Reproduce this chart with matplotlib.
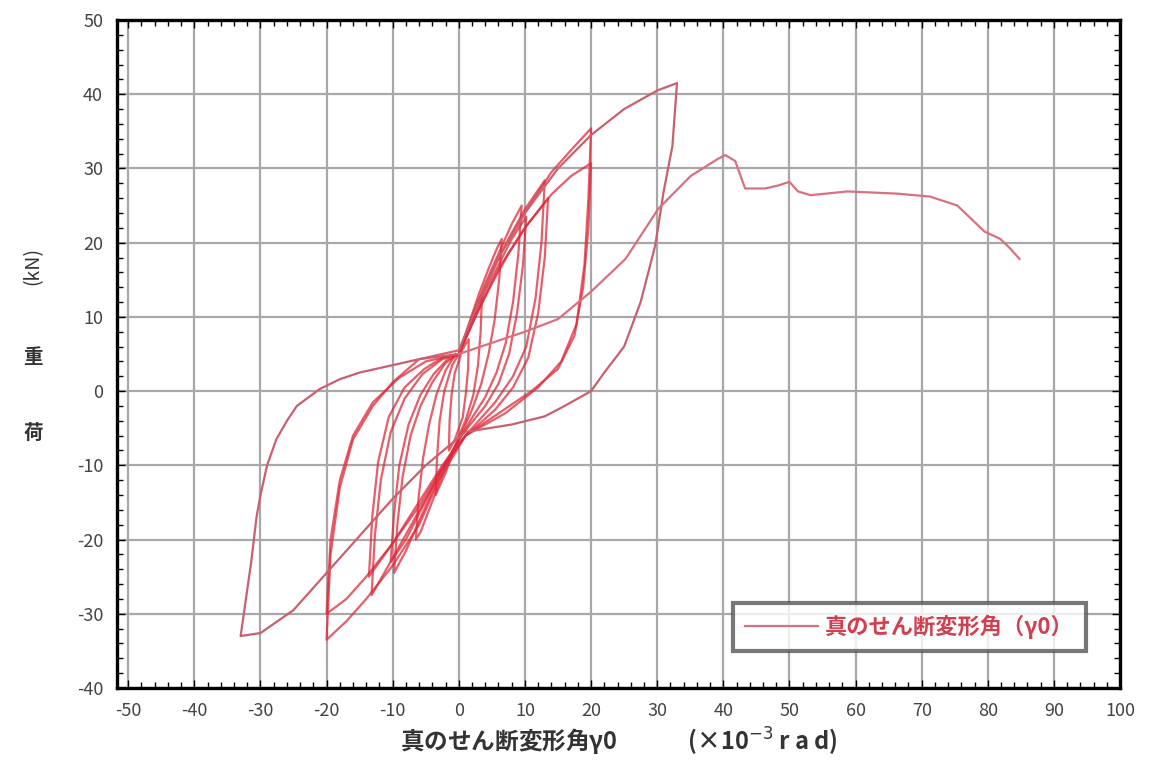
import numpy as np
import matplotlib
matplotlib.use("Agg")
from matplotlib import pyplot as plt
from matplotlib.ticker import MultipleLocator

plt.rcParams["font.family"] = ["Noto Sans CJK JP", "DejaVu Sans"]
plt.rcParams["axes.unicode_minus"] = False

# 履歴ループ (x: 真のせん断変形角 ×10^-3 rad, y: 荷重 kN)
loop_a = [[0, 4], [0.5, 5.5], [1.0, 6.3], [1.5, 7], [1.4, 3], [1.1, 0], [0.6, -3.5], [0, -5],
          [-0.5, -6.3], [-1.0, -7.2], [-1.5, -8], [-1.4, -4], [-1.1, -0.5], [-0.6, 2.5], [0, 4]]
loop_b = [[0, 5], [1, 7.5], [2, 10], [3, 12], [3.5, 13], [3.3, 8], [2.9, 3.5], [2.2, -0.5], [1, -4],
          [0, -6], [-1, -8.5], [-2, -11], [-3, -13], [-3.5, -14], [-3.3, -9], [-2.9, -4], [-2.2, 0],
          [-1, 3.5], [0, 5]]
loop_c = [[0, 5], [1.5, 9], [3, 13], [4.5, 16.5], [5.8, 19.3], [6.5, 20.5], [6.1, 15], [5.4, 9.5],
          [4.5, 5], [3.4, 1], [2, -2.5], [0.5, -5.5], [-1.5, -9], [-3, -12.5], [-4.5, -16],
          [-5.8, -19], [-6.5, -20], [-6.1, -14.5], [-5.4, -9], [-4.5, -4.5], [-3.4, -0.5], [-2, 2.8],
          [-0.5, 5]]
loop_d = [[0, 5], [2, 10], [4, 14.5], [6, 18.5], [8, 22.5], [9.5, 25], [9, 18.5], [8.2, 12],
          [7.1, 6.5], [5.7, 2.5], [4, -0.8], [2, -3.6], [0.5, -5.8], [-2, -10], [-4, -13.5], [-6, -17.5],
          [-8, -21.5], [-9.8, -24.5], [-9.3, -18], [-8.5, -11.5], [-7.3, -6], [-5.8, -2], [-4, 1.2],
          [-2, 3.8], [0, 5]]
loop_d2 = [[0, 5], [2, 9.5], [4, 13.5], [6, 17], [8, 20.5], [10.2, 23.5], [9.7, 17], [8.8, 10.5],
           [7.6, 5], [6, 1], [4, -2], [2, -4.2], [0.5, -5.9], [-2, -9.5], [-4, -13], [-6, -16.5],
           [-8, -20], [-10.3, -23], [-9.8, -16.5], [-9, -10], [-7.6, -4.5], [-5.8, -0.5], [-3.8, 2.3],
           [-1.8, 4.2], [0, 5]]
loop_e = [[0, 5], [2.5, 11], [5, 16], [7.5, 20.5], [10, 24.5], [13, 28.4], [12.5, 20], [11.6, 12.5],
          [10.2, 6], [8.2, 2], [5.5, -1.5], [3, -4], [1, -6], [-2.5, -10.5], [-5, -14.5], [-7.5, -18.5],
          [-10, -22.5], [-13.2, -27.5], [-12.7, -19.5], [-11.8, -12], [-10.3, -5.5], [-8.2, -1],
          [-5.5, 2.3], [-2.5, 4.3], [0, 5]]
loop_e2 = [[0, 5], [2.5, 10], [5, 14.5], [7.5, 18.5], [10, 22], [13.5, 26], [13, 18], [12, 10.5],
           [10.5, 4.5], [8.2, 0.5], [5.5, -2.5], [3, -4.5], [1, -6], [-2.5, -10], [-5, -13.5],
           [-7.5, -17], [-10, -20.5], [-13.6, -25], [-13.1, -17], [-12.2, -9.5], [-10.6, -3.5],
           [-8.2, 0.5], [-5.2, 3], [-2.5, 4.5], [0, 5]]
loop_f = [[0, 5], [3, 12], [6, 18], [10, 24], [14, 29.5], [17, 32.5], [20, 35.4], [19.6, 26], [19, 17],
          [17.8, 9], [15.5, 4], [12, 0.5], [7, -3], [1, -6], [-3, -12], [-6, -18], [-10, -23.5],
          [-14, -28], [-17, -31], [-20, -33.5], [-19.4, -22], [-18, -13], [-16, -6.5], [-13, -2],
          [-10, 1.2], [-6, 4.3], [0, 5.5]]
loop_f2 = [[0, 5], [3, 11], [6, 16.5], [10, 22], [14, 26.5], [17, 29], [20, 30.7], [19.6, 22],
           [18.8, 14], [17.5, 7.5], [15, 3], [11, 0], [6, -3], [1, -6], [-3, -11], [-6, -15.5],
           [-10, -20.5], [-14, -25], [-17, -28], [-20, -30], [-19.4, -20], [-18, -12], [-16, -6],
           [-13, -1.5], [-9, 1.8], [-5, 4], [0, 5]]
loop_g = [[0, 5.5], [3, 12], [6, 18], [10, 24], [15, 30], [20, 34.5], [25, 38], [30, 40.5], [33, 41.5],
          [32.3, 33], [31, 27], [29.7, 19.6], [27.5, 12], [25, 6], [22, 2.5], [20, 0], [16, -2],
          [13, -3.4], [8, -4.5], [1, -5.5], [-5, -10], [-10, -14.5], [-15, -19.5], [-20, -24.5],
          [-25, -29.5], [-30, -32.6], [-33, -33], [-32.2, -28], [-31.4, -23], [-30.6, -17],
          [-30, -14], [-29, -10], [-27.6, -6.5], [-26, -4], [-24.5, -2], [-21, 0.3], [-18, 1.6],
          [-15, 2.5], [-10, 3.5], [-6, 4.3], [0, 5]]
final_push = [[0, 5], [5, 6.5], [10, 8], [15, 9.7], [20, 13.4], [25.2, 17.8], [30.2, 24.6], [35.1, 29],
              [39.2, 31.3], [40.3, 31.8], [41.8, 31], [43.3, 27.3], [46.3, 27.3], [48.3, 27.7],
              [50, 28.2], [51.3, 26.9], [53.2, 26.4], [58.8, 26.9], [66.4, 26.6], [71.3, 26.2],
              [75.4, 25], [79.5, 21.5], [81.9, 20.5], [83.4, 19.2], [84.8, 17.8]]

loops = [loop_a, loop_b, loop_c, loop_d, loop_d2, loop_e, loop_e2, loop_f, loop_f2]

fig = plt.figure(figsize=(11.55, 7.78), dpi=100)
ax = fig.add_axes([0.1013, 0.1157, 0.8684, 0.8586])

for lp in loops:
    d = np.array(lp)
    ax.plot(d[:, 0], d[:, 1], color="#e0283a", lw=1.6, alpha=0.75)
d = np.array(loop_g)
ax.plot(d[:, 0], d[:, 1], color="#c9606e", lw=1.6)
d = np.array(final_push)
line, = ax.plot(d[:, 0], d[:, 1], color="#d8707e", lw=1.6)

ax.set_xlim(-51.7, 100)
ax.set_ylim(-40, 50)
ax.xaxis.set_major_locator(MultipleLocator(10))
ax.yaxis.set_major_locator(MultipleLocator(10))
ax.xaxis.set_minor_locator(MultipleLocator(2))
ax.yaxis.set_minor_locator(MultipleLocator(2))
ax.grid(True, which="major", color="#a8a8a8", lw=1.6)
ax.set_axisbelow(True)
ax.tick_params(which="both", direction="in", top=True, right=True, labelsize=13,
               labelcolor="#444444", pad=10)
ax.tick_params(which="major", length=6, width=1)
ax.tick_params(which="minor", length=4, width=1)
for s in ax.spines.values():
    s.set_linewidth(2.4)
    s.set_color("black")

ax.set_xlabel("真のせん断変形角γ0　　　(×10$^{-3}$ r a d)", fontsize=17, color="#333333",
              fontweight="bold", labelpad=4)
fig.text(33 / 1155, 1 - 433 / 778, "荷", fontsize=14, fontweight="bold", color="#333333",
         ha="center", va="center")
fig.text(33 / 1155, 1 - 357 / 778, "重", fontsize=14, fontweight="bold", color="#333333",
         ha="center", va="center")
fig.text(33 / 1155, 1 - 266 / 778, "(kN)", fontsize=14, color="#333333", rotation=90,
         ha="center", va="center")

leg = ax.legend([line], ["真のせん断変形角（γ0）"], loc="lower right",
                bbox_to_anchor=(0.977, 0.038), frameon=True, fancybox=False,
                fontsize=16, handlelength=3.3, handletextpad=0.3, borderpad=0.55)
leg.get_frame().set_edgecolor("#555555")
leg.get_frame().set_linewidth(3)
for t in leg.get_texts():
    t.set_color("#d04050")
    t.set_fontweight("bold")

plt.savefig("out.png", dpi=100)
